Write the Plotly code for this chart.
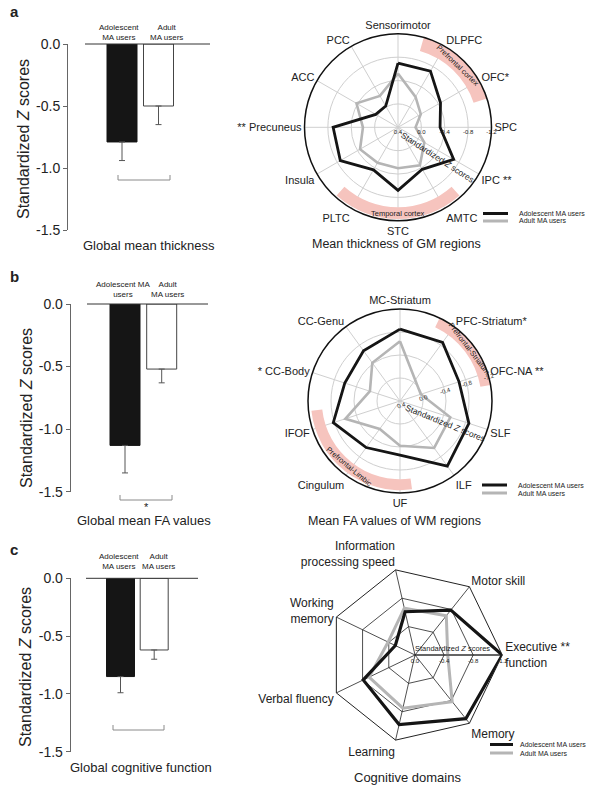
import math
import plotly.graph_objects as go

# ------------------------------------------------------------------ data
groups = ["Adolescent MA users", "Adult MA users"]
group_labels_a = ["Adolescent<br>MA users", "Adult<br>MA users"]
group_labels_b = ["Adolescent MA<br>users", "Adult<br>MA users"]
group_labels_c = ["Adolescent<br>MA users", "Adult<br>MA users"]

thick_mean = [-0.79, -0.50]
thick_err = [0.15, 0.15]
fa_mean = [-1.13, -0.52]
fa_err = [0.22, 0.11]
cog_mean = [-0.85, -0.62]
cog_err = [0.14, 0.08]

bar_ticks = [0.0, -0.5, -1.0, -1.5]
bar_ticktext = ["0.0", "-0.5", "-1.0", "-1.5"]

gm_regions = ["Sensorimotor", "DLPFC", "OFC*", "SPC", "IPC **", "AMTC", "STC",
              "PLTC", "Insula", "** Precuneus", "ACC", "PCC"]
gm_adolescent = [-0.70, -0.71, -0.44, -0.32, -0.70, -0.43, -0.68, -0.44, -0.74, -0.71, -0.04, -0.02]
gm_adult = [-0.52, -0.20, -0.05, 0.10, -0.12, -0.35, -0.30, -0.30, -0.35, -0.20, -0.42, -0.22]

wm_regions = ["MC-Striatum", "PFC-Striatum*", "OFC-NA **", "SLF", "ILF", "UF",
              "Cingulum", "IFOF", "* CC-Body", "CC-Genu"]
wm_adolescent = [-0.85, -0.86, -0.68, -0.86, -1.00, -0.54, -0.60, -0.82, -0.61, -0.68]
wm_adult = [-0.64, -0.05, 0.02, -0.52, -0.61, -0.38, -0.20, -0.60, -0.15, -0.42]

radial_ticks_ab = [0.4, 0.0, -0.4, -0.8, -1.2]
radial_ticktext_ab = ["0.4", "0.0", "-0.4", "-0.8", "-1.2"]

cog_domains = ["Executive function", "Motor skill", "Information processing speed",
               "Working memory", "Verbal fluency", "Learning", "Memory"]
cog_domain_labels = ["Executive **<br>function", "Motor skill", "Information<br>processing speed",
                     "Working<br>memory", "Verbal fluency", "Learning", "Memory"]
cog_adolescent = [-1.20, -0.79, -0.61, -0.30, -0.79, -0.98, -1.12]
cog_adult = [-0.45, -0.69, -0.66, -0.41, -0.70, -0.75, -0.82]
radial_ticks_c = [0.0, -0.4, -0.8, -1.2]
radial_ticktext_c = ["0.0", "-0.4", "-0.8", "-1.2"]

# ------------------------------------------------------------------ layout helpers
W, H = 604, 793
FONT = "Liberation Sans, Arial, Helvetica, sans-serif"
TXT = "#222222"
BLACK = "#151515"
GRAY = "#b5b5b5"
PINK = "#f6c4be"


def px(x):
    return x / W


def py(y):
    return 1 - y / H


fig = go.Figure()
annotations = []
shapes = []


def add_text(x, y, text, size, angle=0, xanchor="center", yanchor="middle", bold=False):
    if bold:
        text = "<b>" + text + "</b>"
    annotations.append(dict(x=px(x), y=py(y), xref="paper", yref="paper", text=text,
                            showarrow=False, textangle=angle, xanchor=xanchor, yanchor=yanchor,
                            font=dict(family=FONT, size=size, color=TXT)))


# ------------------------------------------------------------------ bar panels
bar_panels = [
    dict(mean=thick_mean, err=thick_err, labels=group_labels_a, xlabel="Global mean thickness",
         ax=68, right=215, top=44, bot=230, c0=122, c1=158.5, bw=30, zl=(85, 210),
         br=(118, 170, 180), star=False, lab_y=33, lab_x=(119, 166), xl=(149, 245),
         yt=(23, 139), letter=("a", 14, 12)),
    dict(mean=fa_mean, err=fa_err, labels=group_labels_b, xlabel="Global mean FA values",
         ax=70.7, right=215, top=304, bot=491.7, c0=125, c1=161.7, bw=30, zl=(87, 208),
         br=(120, 172, 500), star=True, lab_y=289, lab_x=(123, 167), xl=(144, 520),
         yt=(26, 408), letter=("b", 14, 276)),
    dict(mean=cog_mean, err=cog_err, labels=group_labels_c, xlabel="Global cognitive function",
         ax=70.7, right=205, top=578.3, bot=751.7, c0=120.5, c1=154.2, bw=28, zl=(86, 198),
         br=(113, 164, 730), star=False, lab_y=561, lab_x=(119, 158), xl=(141, 767),
         yt=(25, 667), letter=("c", 14, 549)),
]

for i, p in enumerate(bar_panels):
    sfx = "" if i == 0 else str(i + 1)
    unit = p["c1"] - p["c0"]
    r0 = -(p["c0"] - p["ax"]) / unit
    r1 = r0 + (p["right"] - p["ax"]) / unit
    fig.add_trace(go.Bar(
        x=[0, 1], y=p["mean"], width=p["bw"] / unit,
        marker=dict(color=[BLACK, "white"], line=dict(color=[BLACK, "#444444"], width=1)),
        error_y=dict(type="data", symmetric=False, array=[0, 0], arrayminus=p["err"],
                     color="#555555", thickness=1, width=3),
        showlegend=False, hoverinfo="skip",
        xaxis="x" + sfx, yaxis="y" + sfx))
    fig.update_layout(**{
        "xaxis" + sfx: dict(domain=[px(p["ax"]), px(p["right"])], range=[r0, r1], visible=False,
                            anchor="y" + sfx, fixedrange=True, automargin=False),
        "yaxis" + sfx: dict(domain=[py(p["bot"]), py(p["top"])], range=[-1.5, 0], anchor="x" + sfx,
                            showline=True, linecolor="#666666", linewidth=1, ticks="outside",
                            ticklen=4, tickcolor="#666666", tickvals=bar_ticks, ticktext=bar_ticktext,
                            tickfont=dict(family=FONT, size=14, color=TXT), showgrid=False,
                            zeroline=False, fixedrange=True, automargin=False),
    })
    # zero reference line
    shapes.append(dict(type="line", xref="paper", yref="paper", x0=px(p["zl"][0]), x1=px(p["zl"][1]),
                       y0=py(p["top"]), y1=py(p["top"]), line=dict(color="#333333", width=1)))
    # bracket
    bx0, bx1, by = p["br"]
    shapes.append(dict(type="path", xref="paper", yref="paper",
                       path="M {a},{b} L {a},{c} L {d},{c} L {d},{b}".format(
                           a=px(bx0), b=py(by - 5), c=py(by), d=px(bx1)),
                       line=dict(color="#8a8a8a", width=1)))
    if p["star"]:
        add_text((bx0 + bx1) / 2, by + 7, "*", 11)
    # group labels
    add_text(p["lab_x"][0], p["lab_y"], p["labels"][0], 8)
    add_text(p["lab_x"][1], p["lab_y"], p["labels"][1], 8)
    add_text(p["xl"][0], p["xl"][1], p["xlabel"], 13)
    add_text(p["yt"][0], p["yt"][1], "Standardized <i>Z</i> scores", 16, angle=-90)
    add_text(p["letter"][1], p["letter"][2], p["letter"][0], 15, bold=True)

# ------------------------------------------------------------------ radar helpers


def closed(v):
    return list(v) + [v[0]]


def radar_ab(name, regions, adol, adult, center, R, bands, legend_y, legend_x, title, title_xy,
             ztitle, tick_angle):
    n = len(regions)
    step = 360 / n
    theta = [i * step for i in range(n)]
    # pink bands: (centre angle, width, inner r, outer r, text, text angle, text r)
    for b in bands:
        fig.add_trace(go.Barpolar(theta=[b[0]], width=[b[1]], base=[b[2]], r=[b[3] - b[2]],
                                  marker=dict(color=PINK, line=dict(width=0)), showlegend=False,
                                  hoverinfo="skip", subplot=name))
    fig.add_trace(go.Scatterpolar(theta=closed(theta), r=closed([0.4 - v for v in adult]),
                                  mode="lines", line=dict(color=GRAY, width=2.6),
                                  showlegend=False, hoverinfo="skip", subplot=name))
    fig.add_trace(go.Scatterpolar(theta=closed(theta), r=closed([0.4 - v for v in adol]),
                                  mode="lines", line=dict(color=BLACK, width=2.8),
                                  showlegend=False, hoverinfo="skip", subplot=name))
    cx, cy = center
    fig.update_layout(**{name: dict(
        domain=dict(x=[px(cx - R), px(cx + R)], y=[py(cy + R), py(cy - R)]),
        bgcolor="rgba(0,0,0,0)",
        radialaxis=dict(range=[0, 1.6], tickvals=[0.4 - t for t in radial_ticks_ab],
                        ticktext=radial_ticktext_ab, showline=False, ticks="", angle=tick_angle,
                        side="clockwise", gridcolor="#cfcfcf", gridwidth=1,
                        tickfont=dict(family=FONT, size=6, color=TXT)),
        angularaxis=dict(type="linear", thetaunit="degrees", rotation=90, direction="clockwise",
                         tickmode="array", tickvals=theta, ticktext=regions, ticks="",
                         showgrid=True, gridcolor="#cfcfcf", gridwidth=1,
                         showline=True, linecolor="#111111", linewidth=1.5,
                         tickfont=dict(family=FONT, size=11, color=TXT)),
    )})
    for b in bands:
        ang = math.radians(90 - b[0])
        rr = b[6] / 1.6 * R
        add_text(cx + rr * math.cos(ang), cy - rr * math.sin(ang), b[4], 7.5, angle=b[5])
    add_text(title_xy[0], title_xy[1], title, 12.5)
    add_text(ztitle[0], ztitle[1], "Standardized <i>Z</i> scores", 8.5, angle=ztitle[2])
    # legend
    lx0, lx1 = legend_x
    shapes.append(dict(type="line", xref="paper", yref="paper", x0=px(lx0), x1=px(lx1),
                       y0=py(legend_y[0]), y1=py(legend_y[0]), line=dict(color=BLACK, width=3)))
    shapes.append(dict(type="line", xref="paper", yref="paper", x0=px(lx0), x1=px(lx1),
                       y0=py(legend_y[1]), y1=py(legend_y[1]), line=dict(color=GRAY, width=3)))
    add_text(lx1 + 9, legend_y[0], groups[0], 7, xanchor="left")
    add_text(lx1 + 9, legend_y[1], groups[1], 7, xanchor="left")


radar_ab("polar", gm_regions, gm_adolescent, gm_adult, center=(398, 127.3), R=93.5,
         bands=[(44, 56, 1.36, 1.60, "Prefrontal cortex", 44, 1.47),
                (180, 84, 1.37, 1.57, "Temporal cortex", 0, 1.47)],
         legend_y=(213.5, 221), legend_x=(483, 508), title="Mean thickness of GM regions",
         title_xy=(396, 244), ztitle=(437, 157, 33), tick_angle=0)

radar_ab("polar2", wm_regions, wm_adolescent, wm_adult, center=(400, 401), R=92,
         bands=[(52.75, 54.5, 1.42, 1.60, "Prefrontal-Striatum", 52.75, 1.51),
                (218, 91.5, 1.36, 1.55, "Prefrontal-Limbic", 40, 1.44)],
         legend_y=(485, 493), legend_x=(482, 507), title="Mean FA values of WM regions",
         title_xy=(394, 521), ztitle=(445, 422.5, 22), tick_angle=18)

# ------------------------------------------------------------------ radar c (heptagon)
ccx, ccy, cR = 415, 655, 87.3
fig.add_trace(go.Scatterpolar(theta=closed(cog_domains), r=closed([-v for v in cog_adult]),
                              mode="lines", line=dict(color=GRAY, width=3),
                              showlegend=False, hoverinfo="skip", subplot="polar3"))
fig.add_trace(go.Scatterpolar(theta=closed(cog_domains), r=closed([-v for v in cog_adolescent]),
                              mode="lines", line=dict(color=BLACK, width=3.2),
                              showlegend=False, hoverinfo="skip", subplot="polar3"))
fig.update_layout(polar3=dict(
    domain=dict(x=[px(ccx - cR), px(ccx + cR)], y=[py(ccy + cR), py(ccy - cR)]),
    bgcolor="rgba(0,0,0,0)", gridshape="linear",
    radialaxis=dict(range=[0, 1.2], tickvals=[-t for t in radial_ticks_c], ticktext=radial_ticktext_c,
                    showline=True, linecolor="#222222", linewidth=1, ticks="", angle=0,
                    side="clockwise", gridcolor="#222222", gridwidth=0.8,
                    tickfont=dict(family=FONT, size=6, color=TXT)),
    angularaxis=dict(type="category", categoryorder="array", categoryarray=cog_domains,
                     rotation=0, direction="counterclockwise", tickmode="array",
                     tickvals=cog_domains, ticktext=cog_domain_labels, ticks="",
                     showgrid=True, gridcolor="#222222", gridwidth=0.8,
                     showline=True, linecolor="#222222", linewidth=1,
                     tickfont=dict(family=FONT, size=12, color=TXT)),
))
add_text(452, 648, "Standardized <i>Z</i> scores", 7.5)
add_text(407, 777, "Cognitive domains", 13)
shapes.append(dict(type="line", xref="paper", yref="paper", x0=px(490), x1=px(513),
                   y0=py(744.5), y1=py(744.5), line=dict(color=BLACK, width=3)))
shapes.append(dict(type="line", xref="paper", yref="paper", x0=px(490), x1=px(513),
                   y0=py(753), y1=py(753), line=dict(color=GRAY, width=3)))
add_text(518, 744.5, groups[0], 7, xanchor="left")
add_text(518, 753, groups[1], 7, xanchor="left")

fig.update_layout(width=W, height=H,
                  margin=dict(l=0, r=0, t=0, b=0, pad=0, autoexpand=False), autosize=False,
                  paper_bgcolor="white", plot_bgcolor="white", showlegend=False,
                  annotations=annotations, shapes=shapes,
                  font=dict(family=FONT, color=TXT))
fig.write_html("out.html", config={"displayModeBar": False, "staticPlot": True},
               post_script="document.body.style.margin='0px';document.body.style.overflow='hidden';")
